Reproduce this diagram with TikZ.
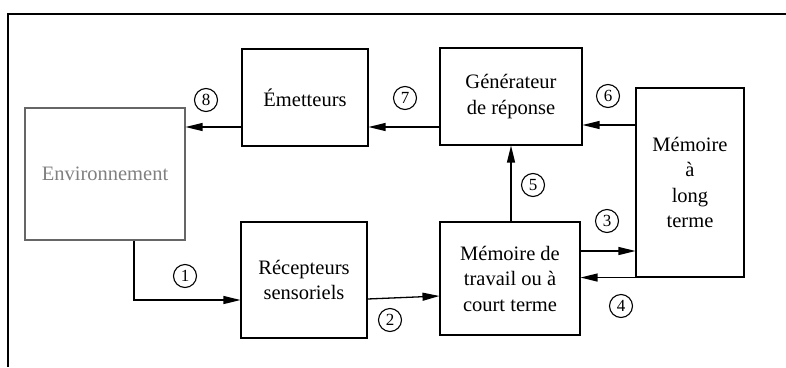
\documentclass[tikz,border=0pt]{standalone}
\usepackage{fontspec}
\setmainfont{Liberation Serif}
\usetikzlibrary{arrows.meta}
\begin{document}
\begin{tikzpicture}[x=1pt,y=-1pt,
  box/.style={draw,line width=1.1pt,inner sep=0pt,align=center,
    font=\fontsize{20.5}{25.5}\selectfont},
  arr/.style={line width=1.3pt,-{Triangle[length=17pt,width=8pt]}},
  num/.style={draw,circle,line width=1.1pt,minimum size=23pt,inner sep=0pt,
    font=\fontsize{17}{17}\selectfont}]
\useasboundingbox (0,0) rectangle (786,367);
\draw[line width=1.3pt] (786,14) coordinate (tr) -- (8,14) coordinate (tl) -- (8,367) coordinate (bl);
% boxes
\node[box,draw=black!60,text=black!50,minimum width=160pt,minimum height=132pt] (env) at (105,174) {Environnement};
\node[box,minimum width=126pt,minimum height=97pt] (emit) at (305,97.5) {Émetteurs};
\node[box,minimum width=126pt,minimum height=116pt] (rec) at (304,280) {Récepteurs\\sensoriels};
\node[box,minimum width=142pt,minimum height=97pt] (gen) at (511,96.5) {Générateur\\de réponse};
\node[box,minimum width=108pt,minimum height=189pt] (ltm) at (690,182.5) {Mémoire\\à\\long\\terme};
\node[box,minimum width=140pt,minimum height=113pt] (mt) at (510,278.5) {Mémoire de\\travail ou à\\court terme};
% arrows
\draw[arr] (emit.west |- 0,127) -- (env.east |- 0,127);
\draw[arr] (gen.west |- 0,127) -- (emit.east |- 0,127);
\draw[arr] (ltm.west |- 0,125) -- (gen.east |- 0,125);
\draw[arr] (mt.north -| 511,0) -- (gen.south -| 511,0);
\draw[arr] (mt.east |- 0,251) -- (ltm.west |- 0,251);
\draw[arr] (ltm.south west) -- (mt.east |- ltm.south west);
\draw[arr] (rec.east |- 0,299) -- (mt.west |- 0,296);
\draw[arr] (env.south -| 134,0) |- (rec.west |- 0,300);
% labels
\node[num] (n8) at (206,100) {8};
\node[num] (n7) at (405,98) {7};
\node[num] (n6) at (608,96) {6};
\node[num] (n5) at (533,185) {5};
\node[num] (n3) at (607,221) {3};
\node[num] (n4) at (621,306) {4};
\node[num] (n2) at (390,320) {2};
\node[num] (n1) at (185,276) {1};
\end{tikzpicture}
\end{document}
